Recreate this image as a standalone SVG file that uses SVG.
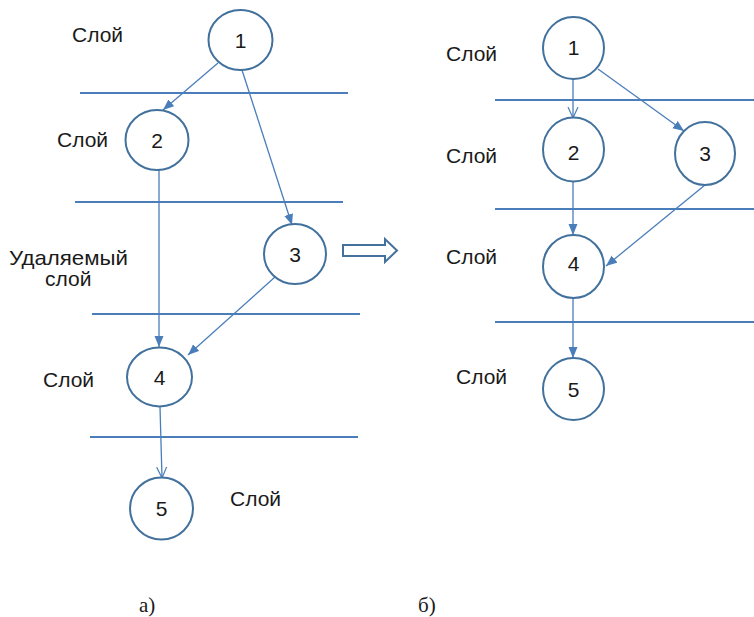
<svg xmlns="http://www.w3.org/2000/svg" width="754" height="617" viewBox="0 0 754 617">
  <style>
    .node ellipse { fill: #ffffff; stroke: #41719C; stroke-width: 2; }
    .node text { font-family: "Liberation Sans", Arial, sans-serif; font-size: 21px; fill: #1a1a1a; text-anchor: middle; }
    .layer { stroke: #4A7EBB; stroke-width: 2; }
    .label { font-family: "Liberation Sans", Arial, sans-serif; font-size: 21px; fill: #1a1a1a; }
    .caption { font-family: "Liberation Serif", "Times New Roman", serif; font-size: 21px; fill: #1a1a1a; }
    .edge { fill: none; stroke: #4A7EBB; stroke-width: 1.3; }
    .edge.solid { marker-end: url(#arrowFilled); }
    .edge.open { marker-end: url(#arrowOpen); }
  </style>
  <defs>
    <marker id="arrowFilled" markerUnits="userSpaceOnUse" markerWidth="12" markerHeight="10" refX="11" refY="5" orient="auto">
      <path d="M0,0.5 L11,5 L0,9.5 z" fill="#4A7EBB"/>
    </marker>
    <marker id="arrowOpen" markerUnits="userSpaceOnUse" markerWidth="12" markerHeight="12" refX="11" refY="6" orient="auto">
      <path d="M0,1 L11,6 L0,11" fill="none" stroke="#4A7EBB" stroke-width="1.2"/>
    </marker>
  </defs>

  <!-- layer separators, left scheme -->
  <g id="layers-left">
    <line class="layer" x1="80" y1="93" x2="348" y2="93"/>
    <line class="layer" x1="75" y1="202" x2="343" y2="202"/>
    <line class="layer" x1="92" y1="314" x2="360" y2="314"/>
    <line class="layer" x1="90" y1="437" x2="358" y2="437"/>
  </g>

  <!-- layer separators, right scheme -->
  <g id="layers-right">
    <line class="layer" x1="495" y1="100" x2="754" y2="100"/>
    <line class="layer" x1="495" y1="209" x2="754" y2="209"/>
    <line class="layer" x1="495" y1="322" x2="754" y2="322"/>
  </g>

  <!-- layer labels -->
  <g id="labels">
    <text class="label" x="72" y="42">Слой</text>
    <text class="label" x="57" y="147">Слой</text>
    <text class="label" x="9" y="265" textLength="119" lengthAdjust="spacingAndGlyphs">Удаляемый</text>
    <text class="label" x="45" y="286">слой</text>
    <text class="label" x="43" y="387">Слой</text>
    <text class="label" x="230" y="506">Слой</text>
    <text class="label" x="446" y="61">Слой</text>
    <text class="label" x="446" y="163">Слой</text>
    <text class="label" x="446" y="264">Слой</text>
    <text class="label" x="456" y="384">Слой</text>
  </g>

  <!-- connectors -->
  <g id="connectors">
    <line class="edge solid" x1="218" y1="63" x2="163" y2="110"/>
    <line class="edge solid" x1="242" y1="70" x2="292" y2="225"/>
    <line class="edge solid" x1="159" y1="170" x2="159" y2="347"/>
    <line class="edge solid" x1="275" y1="277" x2="188" y2="355"/>
    <line class="edge open" x1="160" y1="407" x2="162" y2="478"/>

    <line class="edge open" x1="573" y1="79" x2="573" y2="118"/>
    <line class="edge solid" x1="598" y1="69" x2="684" y2="131"/>
    <line class="edge solid" x1="573" y1="181" x2="573" y2="235"/>
    <line class="edge solid" x1="705" y1="185" x2="606" y2="266"/>
    <line class="edge solid" x1="573" y1="298" x2="573" y2="358"/>
  </g>

  <!-- transformation arrow between the schemes -->
  <g id="transform-arrow">
    <path d="M343,245 L385,245 L385,239 L397,250.5 L385,262 L385,256 L343,256 z" fill="#ffffff" stroke="#41719C" stroke-width="2" stroke-linejoin="miter"/>
  </g>

  <!-- left scheme nodes -->
  <g id="a-node1" class="node"><ellipse cx="240.5" cy="40" rx="32" ry="30"/><text x="240.5" y="47.5">1</text></g>
  <g id="a-node2" class="node"><ellipse cx="157" cy="140" rx="31.5" ry="30"/><text x="157" y="147.5">2</text></g>
  <g id="a-node3" class="node"><ellipse cx="295" cy="254" rx="31" ry="30"/><text x="295" y="261.5">3</text></g>
  <g id="a-node4" class="node"><ellipse cx="159.5" cy="377" rx="32.5" ry="29.5"/><text x="159.5" y="384.5">4</text></g>
  <g id="a-node5" class="node"><ellipse cx="161.5" cy="508.5" rx="31.5" ry="31"/><text x="161.5" y="515.5">5</text></g>

  <!-- right scheme nodes -->
  <g id="b-node1" class="node"><ellipse cx="573.5" cy="48" rx="30.5" ry="31"/><text x="573.5" y="54.5">1</text></g>
  <g id="b-node2" class="node"><ellipse cx="573.5" cy="149.5" rx="30.5" ry="32"/><text x="573.5" y="160">2</text></g>
  <g id="b-node3" class="node"><ellipse cx="705" cy="153.5" rx="30" ry="31.5"/><text x="705" y="160.5">3</text></g>
  <g id="b-node4" class="node"><ellipse cx="573.5" cy="266.5" rx="30.5" ry="31.5"/><text x="573.5" y="270.5">4</text></g>
  <g id="b-node5" class="node"><ellipse cx="573.5" cy="389" rx="30.5" ry="31"/><text x="573.5" y="397">5</text></g>

  <!-- scheme captions -->
  <g id="captions">
    <text class="caption" x="139" y="612">а)</text>
    <text class="caption" x="418" y="612">б)</text>
  </g>
</svg>
